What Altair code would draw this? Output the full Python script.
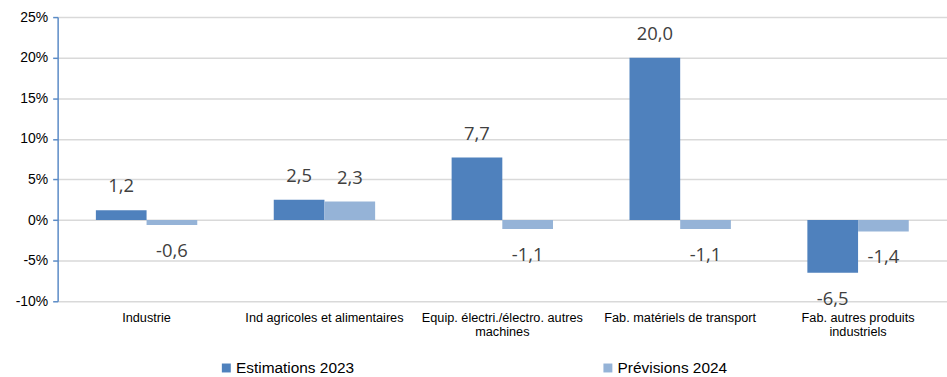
import altair as alt
import pandas as pd

categories = [
    "Industrie",
    "Ind agricoles et alimentaires",
    "Equip. électri./électro. autres|machines",
    "Fab. matériels de transport",
    "Fab. autres produits|industriels",
]
series_names = ["Estimations 2023", "Prévisions 2024"]
estimations_2023 = [1.2, 2.5, 7.7, 20.0, -6.5]
previsions_2024 = [-0.6, 2.3, -1.1, -1.1, -1.4]
colors = ["#4F81BD", "#95B3D7"]

rows = []
for i, cat in enumerate(categories):
    rows.append({"cat": cat, "serie": series_names[0], "v": estimations_2023[i]})
    rows.append({"cat": cat, "serie": series_names[1], "v": previsions_2024[i]})
df = pd.DataFrame(rows)

x_enc = alt.X(
    "cat:N",
    sort=categories,
    title=None,
    scale=alt.Scale(paddingInner=0.43, paddingOuter=0.215),
    axis=alt.Axis(
        labelAngle=0,
        labelExpr="split(datum.label, '|')",
        labelFont="Liberation Sans",
        labelFontSize=12.8,
        labelColor="#000000",
        labelPadding=10,
        labelLimit=300,
        domain=False,
        ticks=False,
        grid=False,
    ),
)
xoff = alt.XOffset("serie:N", sort=series_names)
y_scale = alt.Scale(domain=[-10, 25], nice=False, zero=False)

bars = alt.Chart(df).mark_bar().encode(
    x=x_enc,
    xOffset=xoff,
    y=alt.Y(
        "v:Q",
        scale=y_scale,
        title=None,
        axis=alt.Axis(
            values=[-10, -5, 0, 5, 10, 15, 20, 25],
            labelExpr="datum.value + '%'",
            labelFont="Liberation Sans",
            labelFontSize=14,
            labelColor="#000000",
            labelPadding=5,
            domainColor="#5B8BC6",
            domainWidth=1.5,
            tickColor="#5B8BC6",
            tickSize=5,
            tickWidth=1.5,
            gridColor="#D9D9D9",
            gridWidth=1.5,
        ),
    ),
    y2=alt.datum(0),
    color=alt.Color(
        "serie:N",
        sort=series_names,
        scale=alt.Scale(domain=series_names, range=colors),
        legend=alt.Legend(
            title=None,
            orient="none",
            direction="horizontal",
            legendX=162,
            legendY=345,
            symbolType="square",
            symbolSize=81,
            symbolStrokeWidth=0,
            labelFont="Liberation Sans",
            labelFontSize=15.5,
            labelColor="#000000",
            labelOffset=2,
            columnPadding=247,
        ),
    ),
)

# value labels use a decimal comma and a plain hyphen for negatives
label_text = "replace(replace(format(datum.v, '.1f'), '.', ','), '\u2212', '-')"

pos_labels = alt.Chart(df).transform_filter("datum.v >= 0").transform_calculate(
    lab=label_text
).mark_text(
    font="Open Sans", fontSize=18.5, color="#404040", baseline="middle", dy=-24
).encode(x=x_enc, xOffset=xoff, y=alt.Y("v:Q", scale=y_scale), text="lab:N")

neg_labels = alt.Chart(df).transform_filter("datum.v < 0").transform_calculate(
    lab=label_text
).mark_text(
    font="Open Sans", fontSize=18.5, color="#404040", baseline="middle", dy=26
).encode(x=x_enc, xOffset=xoff, y=alt.Y("v:Q", scale=y_scale), text="lab:N")

chart = (
    alt.layer(bars, pos_labels, neg_labels)
    .properties(
        width=895,
        height=286,
        autosize=alt.AutoSizeParams(type="none"),
        padding={"left": 58, "top": 16, "right": 0, "bottom": 75},
        background="white",
    )
    .configure_view(stroke=None)
)

chart.save("out.html", embed_options={"renderer": "svg", "actions": False})
